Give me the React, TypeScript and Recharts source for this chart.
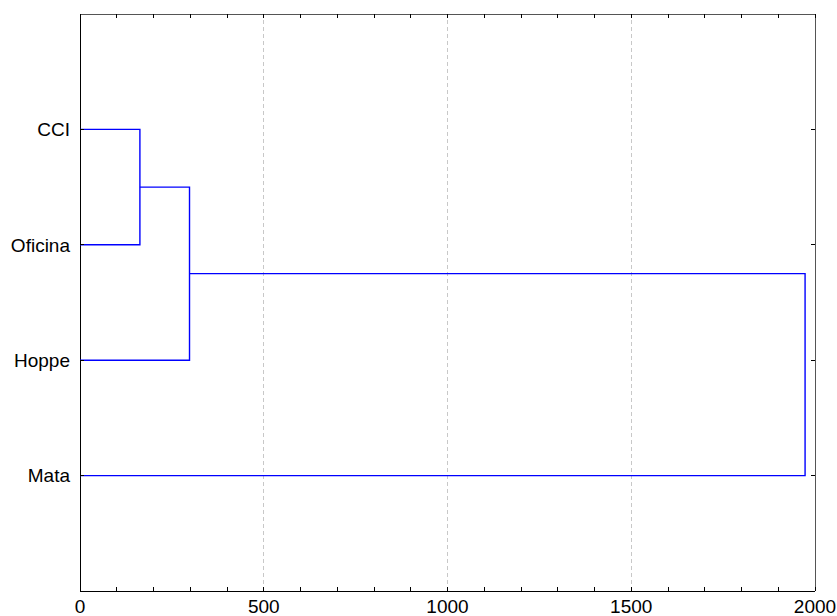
import React from 'react';
import {
    ScatterChart,
    Scatter,
    XAxis,
    YAxis,
    ReferenceLine,
} from 'recharts';

// leaves from top to bottom, merges as [left node, right node, linkage distance]
const leaves = ['CCI', 'Oficina', 'Hoppe', 'Mata'];
const merges: [string, string, number][] = [
    ['CCI', 'Oficina', 163],
    ['CCI+Oficina', 'Hoppe', 298],
    ['CCI+Oficina+Hoppe', 'Mata', 1973],
];
const xLabelTicks = [0, 500, 1000, 1500, 2000];
const xMinorTicks = [
    0, 100, 200, 300, 400, 500, 600, 700, 800, 900, 1000,
    1100, 1200, 1300, 1400, 1500, 1600, 1700, 1800, 1900, 2000,
];
const gridLines = [500, 1000, 1500];
const leafTicks = [1, 2, 3, 4];

type Pt = { x: number; y: number };

const buildLinks = () => {
    const nodes: Record<string, { pos: number; h: number }> = {};
    leaves.forEach((name, i) => {
        nodes[name] = { pos: i + 1, h: 0 };
    });
    const links: Pt[][] = [];
    merges.forEach(([a, b, h]) => {
        const na = nodes[a];
        const nb = nodes[b];
        links.push([
            { x: na.h, y: na.pos },
            { x: h, y: na.pos },
            { x: h, y: nb.pos },
            { x: nb.h, y: nb.pos },
        ]);
        nodes[`${a}+${b}`] = { pos: (na.pos + nb.pos) / 2, h };
    });
    return links;
};

const links = buildLinks();
const FONT = '"Liberation Sans", Arial, sans-serif';
const BLUE = '#0000ff';

const BottomTick = (props: any) => {
    const { x, y, payload } = props;
    const showLabel = xLabelTicks.includes(payload.value);
    return (
        <g>
            <line x1={x} x2={x} y1={y} y2={y - 4} stroke='#000' shapeRendering='crispEdges' />
            {showLabel && (
                <text x={x} y={y + 22} textAnchor='middle' fontSize={19} fontFamily={FONT} fill='#000'>
                    {payload.value}
                </text>
            )}
        </g>
    );
};

const TopTick = (props: any) => {
    const { x, y } = props;
    return <line x1={x} x2={x} y1={y} y2={y + 4} stroke='#000' shapeRendering='crispEdges' />;
};

const LeftTick = (props: any) => {
    const { x, y, payload } = props;
    return (
        <g>
            <line x1={x} x2={x + 4} y1={y} y2={y} stroke='#000' shapeRendering='crispEdges' />
            <text x={x - 10} y={y} dy='0.355em' textAnchor='end' fontSize={19} fontFamily={FONT} fill='#000'>
                {leaves[payload.value - 1]}
            </text>
        </g>
    );
};

const RightTick = (props: any) => {
    const { x, y } = props;
    return <line x1={x} x2={x - 4} y1={y} y2={y} stroke='#000' shapeRendering='crispEdges' />;
};

const App = () => {
    return (
        <div style={{ position: 'absolute', left: 0, top: 0, width: 837, height: 616 }}>
            <ScatterChart
                width={837}
                height={616}
                margin={{ top: 13, right: 21, bottom: 0, left: 0 }}
            >
                <XAxis
                    xAxisId='bottom'
                    dataKey='x'
                    type='number'
                    orientation='bottom'
                    domain={[0, 2000]}
                    ticks={xMinorTicks}
                    interval={0}
                    height={25}
                    tickSize={0}
                    tickMargin={0}
                    tickLine={false}
                    tick={<BottomTick />}
                    axisLine={{ stroke: '#000', shapeRendering: 'crispEdges' }}
                    allowDataOverflow
                />
                <XAxis
                    xAxisId='top'
                    dataKey='x'
                    type='number'
                    orientation='top'
                    domain={[0, 2000]}
                    ticks={xMinorTicks}
                    interval={0}
                    height={1}
                    tickSize={0}
                    tickMargin={0}
                    tickLine={false}
                    tick={<TopTick />}
                    axisLine={{ stroke: '#555', shapeRendering: 'crispEdges' }}
                    allowDataOverflow
                />
                <YAxis
                    yAxisId='left'
                    dataKey='y'
                    type='number'
                    orientation='left'
                    domain={[0, 5]}
                    reversed
                    ticks={leafTicks}
                    interval={0}
                    width={80}
                    tickSize={0}
                    tickMargin={0}
                    tickLine={false}
                    tick={<LeftTick />}
                    axisLine={{ stroke: '#000', shapeRendering: 'crispEdges' }}
                    allowDataOverflow
                />
                <YAxis
                    yAxisId='right'
                    dataKey='y'
                    type='number'
                    orientation='right'
                    domain={[0, 5]}
                    reversed
                    ticks={leafTicks}
                    interval={0}
                    width={1}
                    tickSize={0}
                    tickMargin={0}
                    tickLine={false}
                    tick={<RightTick />}
                    axisLine={{ stroke: '#555', shapeRendering: 'crispEdges' }}
                    allowDataOverflow
                />
                {gridLines.map((v) => (
                    <ReferenceLine
                        key={v}
                        x={v}
                        xAxisId='bottom'
                        yAxisId='left'
                        stroke='#c8c8c8'
                        strokeDasharray='4 3'
                        shapeRendering='crispEdges'
                    />
                ))}
                {/* invisible point so the top and right frame axes get drawn */}
                <Scatter
                    data={[{ x: 0, y: 0 }]}
                    xAxisId='top'
                    yAxisId='right'
                    fill='none'
                    stroke='none'
                    shape={() => <g />}
                    isAnimationActive={false}
                    legendType='none'
                />
                {links.map((pts, i) => (
                    <Scatter
                        key={i}
                        data={pts}
                        xAxisId='bottom'
                        yAxisId='left'
                        fill={BLUE}
                        stroke={BLUE}
                        line={{ stroke: BLUE, strokeWidth: 1.4 }}
                        shape={() => <g />}
                        isAnimationActive={false}
                        legendType='none'
                    />
                ))}
            </ScatterChart>
        </div>
    );
};

export default App;
